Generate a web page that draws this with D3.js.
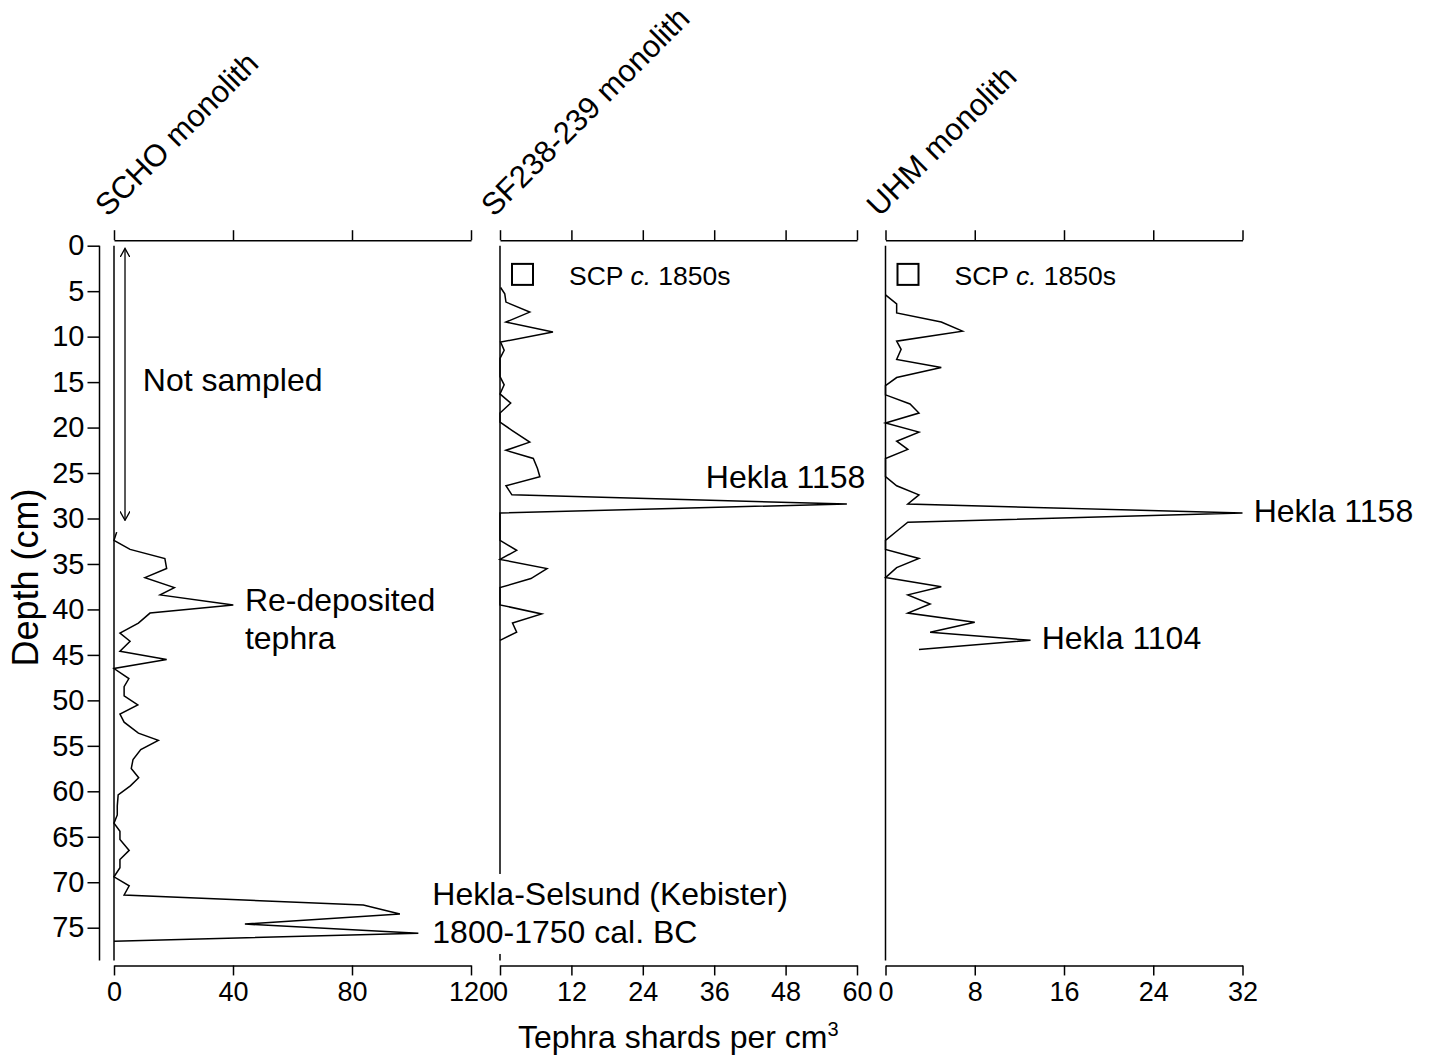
<!DOCTYPE html>
<html>
<head>
<meta charset="utf-8">
<script src="https://cdn.jsdelivr.net/npm/d3@7"></script>
<style>
  body { margin: 0; background: #fff; }
  svg text { font-family: "Liberation Sans", Arial, sans-serif; fill: #000; }
  .axis path, .axis line { stroke: #000; stroke-width: 1.5; }
  .axis text { font-family: "Liberation Sans", Arial, sans-serif; font-size: 27px; }
  .yaxis text { font-size: 29px; }
  .curve { fill: none; stroke: #000; stroke-width: 1.5; stroke-linejoin: miter; }
</style>
</head>
<body>
<div id="chart"></div>
<script>
// depth ticks (cm)
var depthTicks = d3.range(0, 80, 5);

// SCHO monolith
var schoDepth = [31.5, 32.4, 33.4, 34.4, 35.5, 36.5, 37.6, 38.4, 39.5, 40.4, 41.5, 42.6, 43.5, 44.6, 45.5,
  46.5, 47.6, 48.5, 49.5, 50.5, 51.5, 52.4, 53.6, 54.4, 55.4, 56.5, 57.5, 58.5, 59.4, 60.4, 61.6, 62.6,
  63.5, 64.4, 65.3, 66.5, 67.5, 68.4, 69.4, 70.4, 71.4, 72.5, 73.5, 74.6, 75.6, 76.5];
var schoShards = [0.9, 0, 5.4, 17.1, 17.7, 10.4, 20.3, 15.5, 40.1, 12.1, 8.2, 2, 5.4, 2, 17.7,
  0, 5, 3.4, 3.4, 8, 2, 3.4, 8.2, 14.9, 9, 6.4, 5.8, 8.3, 5.5, 1.4, 1.1, 1.1,
  0, 2, 2, 5.1, 2, 2, 0, 5.1, 3.4, 83.8, 96.1, 44, 102.3, 0];

// SF238-239 monolith
var sfDepth = [4.6, 5.3, 6.2, 7.3, 8.4, 9.5, 10.6, 11.5, 12.4, 13.4, 14.4, 15.3, 16.3, 17.3, 18.4, 19.4,
  20.3, 21.6, 22.5, 23.4, 24.5, 25.4, 26.4, 27.4, 28.4, 29.4, 30.4, 31.4, 32.4, 33.5, 34.5, 35.5,
  36.6, 37.6, 38.5, 39.5, 40.5, 41.5, 42.5, 43.4];
var sfShards = [0.1, 0.8, 1, 5, 1, 8.9, 0.1, 0.7, 0, 0, 0, 0.7, 0, 1.8, 0, 0,
  2, 5, 1, 5.6, 6.3, 6.7, 1, 2, 58.3, 0, 0, 0, 0, 2.8, 0, 7.9,
  5.2, 0, 0, 0, 7, 2.1, 2.8, 0];

// UHM monolith
var uhmDepth = [5.4, 6.4, 7.4, 8.4, 9.4, 10.5, 11.4, 12.5, 13.4, 14.5, 15.4, 16.4, 17.4, 18.4, 19.5,
  20.5, 21.5, 22.4, 23.4, 24.4, 25.4, 26.4, 27.4, 28.4, 29.4, 30.4, 31.4, 32.4, 33.4, 34.4, 35.4,
  36.5, 37.5, 38.4, 39.4, 40.4, 41.4, 42.5, 43.4, 44.4];
var uhmShards = [0, 1, 1, 5, 6.9, 1, 1.4, 1, 5, 1, 0, 0, 2.2, 3, 0,
  3, 1, 2, 0, 0, 0, 1, 3, 2, 32, 2, 1, 0, 0, 3, 1,
  0, 5, 2, 4, 2, 8, 4, 13, 3];

var panelNames = ["SCHO monolith", "SF238-239 monolith", "UHM monolith"];
var panelMax = [120, 60, 32];
var panelTicks = [[0, 40, 80, 120], [0, 12, 24, 36, 48, 60], [0, 8, 16, 24, 32]];

var width = 1430;
var height = 1056;
var depthBottom = 78.6;

var svg = d3.select("#chart").append("svg")
  .attr("width", width)
  .attr("height", height);

var yScale = d3.scaleLinear().domain([0, 75]).range([245.7, 927.7]);

var panelLeft = [114, 500, 885.5];
var panelWidth = 357;

var panels = [
  { name: panelNames[0], depth: schoDepth, shards: schoShards },
  { name: panelNames[1], depth: sfDepth, shards: sfShards },
  { name: panelNames[2], depth: uhmDepth, shards: uhmShards }
];

var xScales = panels.map(function(p, i) {
  return d3.scaleLinear().domain([0, panelMax[i]]).range([panelLeft[i], panelLeft[i] + panelWidth]);
});

// depth axis
var yAxis = d3.axisLeft(yScale).tickValues(depthTicks).tickSize(12).tickPadding(3).tickSizeOuter(0);
var yG = svg.append("g").attr("class", "axis yaxis").attr("transform", "translate(99.5,0)").call(yAxis);
yG.select(".domain").remove();
yG.append("line")
  .attr("x1", 0).attr("x2", 0)
  .attr("y1", yScale(0)).attr("y2", yScale(depthBottom))
  .style("stroke", "#000").style("stroke-width", 1.5);

svg.append("text")
  .attr("transform", "translate(38," + yScale(36.5) + ")rotate(-90)")
  .attr("text-anchor", "middle")
  .style("font-size", "36px")
  .text("Depth (cm)");

var bottomY = yScale(depthBottom) + 5;
var topY = yScale(0) - 5.5;

panels.forEach(function(p, i) {
  var x = xScales[i];

  // top axis without labels
  svg.append("g").attr("class", "axis")
    .attr("transform", "translate(0," + topY + ")")
    .call(d3.axisTop(x).tickValues(panelTicks[i]).tickSize(10).tickSizeOuter(0).tickFormat(""));

  // bottom axis
  svg.append("g").attr("class", "axis")
    .attr("transform", "translate(0," + bottomY + ")")
    .call(d3.axisBottom(x).tickValues(panelTicks[i]).tickSize(10).tickSizeOuter(0).tickPadding(6));

  // zero baseline
  svg.append("line")
    .attr("x1", x(0)).attr("x2", x(0))
    .attr("y1", yScale(0)).attr("y2", yScale(depthBottom))
    .style("stroke", "#000").style("stroke-width", 1.5);

  // the shard curve
  var pts = p.depth.map(function(d, k) { return [p.shards[k], d]; });
  svg.append("path")
    .datum(pts)
    .attr("class", "curve")
    .attr("d", d3.line()
      .x(function(d) { return x(d[0]); })
      .y(function(d) { return yScale(d[1]); }));

  // rotated panel title
  svg.append("text")
    .attr("transform", "translate(" + (x(0) - 6) + "," + (yScale(0) - 28) + ")rotate(-45)")
    .style("font-size", "31px")
    .text(p.name);
});

svg.append("text")
  .attr("x", (xScales[0](0) + xScales[2](32)) / 2)
  .attr("y", 1048)
  .attr("text-anchor", "middle")
  .style("font-size", "32px")
  .html("Tephra shards per cm<tspan dy='-12' style='font-size:20px'>3</tspan>");

// "Not sampled" double arrow
var defs = svg.append("defs");
defs.append("marker")
  .attr("id", "chev")
  .attr("viewBox", "0 0 10 10")
  .attr("refX", 9).attr("refY", 5)
  .attr("markerWidth", 10).attr("markerHeight", 10)
  .attr("markerUnits", "userSpaceOnUse")
  .attr("orient", "auto-start-reverse")
  .append("path")
  .attr("d", "M0,0 L9,5 L0,10")
  .style("fill", "none").style("stroke", "#000").style("stroke-width", 1.3);

svg.append("line")
  .attr("x1", xScales[0](3.7)).attr("x2", xScales[0](3.7))
  .attr("y1", yScale(0.3)).attr("y2", yScale(30.2))
  .style("stroke", "#000").style("stroke-width", 1.3)
  .attr("marker-start", "url(#chev)")
  .attr("marker-end", "url(#chev)");

function note(x, y, lines, size, bg) {
  var g = svg.append("g");
  var t = g.append("text").attr("x", x).attr("y", y).style("font-size", size + "px");
  lines.forEach(function(s, k) {
    t.append("tspan").attr("x", x).attr("dy", k === 0 ? 0 : 38).text(s);
  });
  if (bg) {
    var b = t.node().getBBox();
    g.insert("rect", "text")
      .attr("x", b.x - 3).attr("y", b.y - 2)
      .attr("width", b.width + 6).attr("height", b.height + 6)
      .style("fill", "#fff");
  }
  return t;
}

note(xScales[0](9.7), yScale(16), ["Not sampled"], 32);
note(xScales[0](44), yScale(40.2), ["Re-deposited", "tephra"], 32);
note(xScales[0](107), yScale(72.5), ["Hekla-Selsund (Kebister)", "1800-1750 cal. BC"], 32, true);
note(xScales[1](34.6), yScale(26.7), ["Hekla 1158"], 32);
note(xScales[2](33), yScale(30.4), ["Hekla 1158"], 32);
note(xScales[2](14), yScale(44.3), ["Hekla 1104"], 32);

// SCP markers
[1, 2].forEach(function(i) {
  var x = xScales[i];
  svg.append("rect")
    .attr("x", x(0) + 12).attr("y", yScale(2))
    .attr("width", 21).attr("height", 21)
    .style("fill", "#fff").style("stroke", "#000").style("stroke-width", 2);
  var t = svg.append("text")
    .attr("x", x(0) + 69)
    .attr("y", yScale(4.3))
    .style("font-size", "26.5px");
  t.append("tspan").text("SCP ");
  t.append("tspan").style("font-style", "italic").text("c.");
  t.append("tspan").text(" 1850s");
});
</script>
</body>
</html>
